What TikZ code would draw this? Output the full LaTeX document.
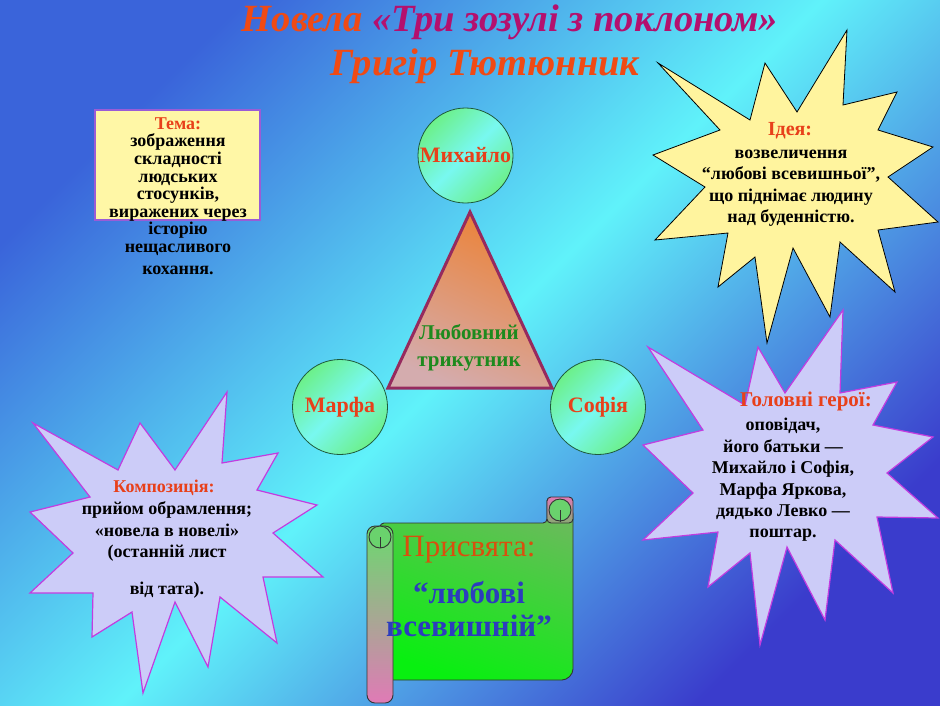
\documentclass[tikz,border=0pt]{standalone}
\usepackage{fontspec}
\setmainfont{Liberation Serif}
\definecolor{bgA}{HTML}{3A64DA}
\definecolor{bgM}{HTML}{60F2FA}
\definecolor{bgB}{HTML}{3A3CCC}
\definecolor{titleRed}{HTML}{F04A14}
\definecolor{titleMag}{HTML}{B4106E}
\definecolor{hdRed}{HTML}{E8401A}
\definecolor{temaFill}{HTML}{FFF7A6}
\definecolor{temaBorder}{HTML}{9A5CD6}
\definecolor{starYellow}{HTML}{FFF49E}
\definecolor{starLilac}{HTML}{CCCCF8}
\definecolor{starEdge}{HTML}{C23CE0}
\definecolor{circGreen}{HTML}{6CF08A}
\definecolor{circCyan}{HTML}{78F8F0}
\definecolor{circEdge}{HTML}{1E5A3C}
\definecolor{triTop}{HTML}{EC8236}
\definecolor{triBot}{HTML}{D4ACAE}
\definecolor{triEdge}{HTML}{962A5E}
\definecolor{triText}{HTML}{1E8A1E}
\definecolor{scrPink}{HTML}{E07AB6}
\definecolor{scrGreen}{HTML}{08F010}
\definecolor{scrBlue}{HTML}{2C3CBE}
\definecolor{scrRed}{HTML}{D8500E}
\begin{document}
\begin{tikzpicture}[x=1pt,y=-1pt,
  circ/.style={circle, draw=circEdge, line width=0.8pt, minimum size=95pt, inner sep=0pt,
    top color=circGreen, bottom color=circGreen, middle color=circCyan, shading angle=45,
    text=hdRed, font=\fontsize{22}{26}\selectfont\bfseries},
  body/.style={align=center, text=black, inner sep=0pt},
  head/.style={text=hdRed, inner sep=0pt},
  ystar/.style={fill=starYellow, draw=black, line width=0.8pt, line join=miter},
  pstar/.style={fill=starLilac, draw=starEdge, line width=1.2pt, line join=miter}
]
\useasboundingbox (0,0) rectangle (940,705);
\shade[top color=bgA, bottom color=bgB, middle color=bgM, shading angle=45] (0,0) rectangle (940,705);

% title
\node[inner sep=0pt, font=\fontsize{38.5}{42}\selectfont\bfseries\itshape] (title1) at (510,22)
  {\textcolor{titleRed}{Новела} \textcolor{titleMag}{«Три зозулі з поклоном»}};
\node[inner sep=0pt, text=titleRed, font=\fontsize{38.5}{42}\selectfont\bfseries\itshape] (title2) at (485,66)
  {Григір Тютюнник};

% Tema box
\node[draw=temaBorder, fill=temaFill, line width=1.5pt, minimum width=165pt, minimum height=110pt, inner sep=0pt] (temabox) at (177.5,165) {};
\node[body, font=\fontsize{18}{17.6}\selectfont\bfseries] (tematext) at (178,196)
  {\textcolor{hdRed}{Тема:}\\ зображення\\ складності\\ людських\\ стосунків,\\ виражених через\\ історію\\ нещасливого\\[4pt] кохання.};

% Idea star
\filldraw[ystar] (658,63) -- (750,120) -- (765,63) -- (797,112) -- (847,30) -- (843,105) -- (897,92) -- (878,130)
  -- (933,147) -- (888,177) -- (938,222) -- (878,230) -- (895,292) -- (840,242) -- (830,317) -- (793,248)
  -- (767,343) -- (755,257) -- (718,287) -- (728,233) -- (655,240) -- (705,187) -- (653,155) -- (720,130) -- cycle;
\node[head, font=\fontsize{20}{22}\selectfont\bfseries] (ideahead) at (790,131) {Ідея:};
\node[body, font=\fontsize{18}{21.5}\selectfont\bfseries] (ideatext) at (791,188)
  {возвеличення\\ “любові всевишньої”,\\ що піднімає людину\\ над буденністю.};

% Heroes star
\filldraw[pstar] (648,347) -- (745,405) -- (758,347) -- (785,393) -- (843,310) -- (840,393) -- (897,382) -- (873,425)
  -- (933,437) -- (887,473) -- (938,518) -- (877,517) -- (893,593) -- (835,540) -- (825,620) -- (787,547)
  -- (760,645) -- (750,553) -- (708,587) -- (718,532) -- (643,540) -- (693,493) -- (643,445) -- (703,430) -- cycle;
\node[head, font=\fontsize{21}{24}\selectfont\bfseries] (herohead) at (806,401) {Головні герої:};
\node[body, font=\fontsize{18}{21.4}\selectfont\bfseries] (herotext) at (783,480)
  {оповідач,\\ його батьки —\\ Михайло і Софія,\\ Марфа Яркова,\\ дядько Левко —\\ поштар.};

% Composition star
\filldraw[pstar] (33,423) -- (118,470) -- (140,423) -- (175,470) -- (227,392) -- (222,463) -- (278,453) -- (257,490)
  -- (317,505) -- (273,533) -- (323,577) -- (263,577) -- (277,643) -- (220,597) -- (208,667) -- (175,602)
  -- (143,693) -- (132,612) -- (92,637) -- (93,593) -- (30,593) -- (73,553) -- (30,512) -- (90,497) -- cycle;
\node[head, font=\fontsize{18}{20}\selectfont\bfseries] (comphead) at (164,488) {Композиція:};
\node[body, font=\fontsize{18}{21.5}\selectfont\bfseries] (comptext) at (167,550)
  {прийом обрамлення;\\ «новела в новелі»\\ (останній лист\\[15pt] від тата).};

% circles
\node[circ] (mih) at (465.5,155.5) {Михайло};
\node[circ] (marf) at (340,407) {Марфа};
\node[circ] (sof) at (598,407) {Софія};

% triangle
\shade[top color=triTop, bottom color=triBot, shading angle=-25] (470,212) -- (552,388) -- (388,388) -- cycle;
\draw[triEdge, line width=3pt, line join=miter] (470,212) -- (552,388) -- (388,388) -- cycle;
\node[body, text=triText, font=\fontsize{21}{27}\selectfont\bfseries] (love) at (469,348) {Любовний\\ трикутник};

% scroll
\shade[draw=black!80, line width=0.9pt, rounded corners=4pt, top color=scrGreen!55!scrPink, bottom color=scrGreen, shading angle=-20]
  (547,497) -- (547,523) -- (380,523) -- (380,680) -- (566,680) -- (573,673) -- (573,510) -- cycle;
\shade[draw=black!80, line width=0.9pt, rounded corners=4pt, top color=scrPink, bottom color=scrPink!60!scrGreen]
  (547,523) -- (547,497) -- (573,497) -- (573,523) -- cycle;
\filldraw[draw=black!80, line width=0.9pt, fill=scrGreen!75!black!60!white] (560,510) circle (11pt);
\draw[black!80, line width=0.9pt] (560,510) -- (560,522);
\shade[draw=black!80, line width=0.9pt, rounded corners=8pt, top color=scrGreen!80!black!60!white, bottom color=scrPink]
  (367,526) rectangle (393,703);
\filldraw[draw=black!80, line width=0.9pt, fill=scrGreen!75!black!60!white] (380,537) circle (11pt);
\draw[black!80, line width=0.9pt] (380,537) -- (380,548);
\node[inner sep=0pt, text=scrRed, font=\fontsize{31}{34}\selectfont] (ded1) at (469,550) {Присвята:};
\node[body, text=scrBlue, font=\fontsize{31}{33}\selectfont\bfseries] (ded2) at (469,609) {“любові\\ всевишній”};
\end{tikzpicture}
\end{document}
